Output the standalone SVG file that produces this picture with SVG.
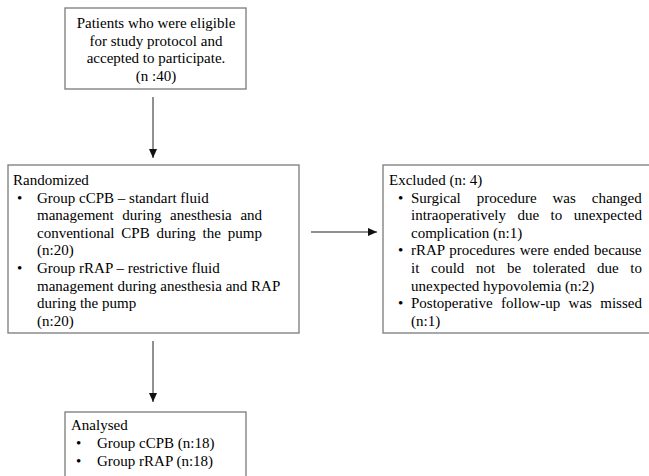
<svg xmlns="http://www.w3.org/2000/svg" width="649" height="476" viewBox="0 0 649 476">
<defs>
<style>
.box{fill:#fff;stroke:#7a7a7a;stroke-width:1.3}
text{font-family:"Liberation Serif","Times New Roman",serif;font-size:15px;fill:#000}
.c{text-anchor:middle}
.ln{stroke:#222;stroke-width:1;fill:none}
</style>
<marker id="ah" markerWidth="10" markerHeight="10" refX="9" refY="5" orient="auto" markerUnits="userSpaceOnUse">
<path d="M0,1 L9,5 L0,9 Z" fill="#111"/>
</marker>
</defs>
<rect width="649" height="476" fill="#fff"/>
<g id="connectors">
<line class="ln" x1="153" y1="97" x2="153" y2="158" marker-end="url(#ah)"/>
<line class="ln" x1="153" y1="341" x2="153" y2="402" marker-end="url(#ah)"/>
<line class="ln" x1="311" y1="232" x2="377" y2="232" marker-end="url(#ah)"/>
</g>
<g id="enrolled">
<rect class="box" x="65" y="8" width="181" height="81"/>
<text class="c" x="156" y="28">Patients who were eligible</text>
<text class="c" x="156" y="45.5">for study protocol and</text>
<text class="c" x="156" y="63">accepted to participate.</text>
<text class="c" x="156" y="80.5">(n :40)</text>
</g>
<g id="randomized">
<rect class="box" x="8" y="165" width="291" height="168"/>
<text x="13" y="185">Randomized</text>
<text x="17" y="202.6">•</text>
<text x="37" y="202.6">Group cCPB – standart fluid</text>
<text x="37" y="220.2" word-spacing="4.9">management during anesthesia and</text>
<text x="37" y="237.8" word-spacing="3.1">conventional CPB during the pump</text>
<text x="37" y="255.4">(n:20)</text>
<text x="17" y="273">•</text>
<text x="37" y="273">Group rRAP – restrictive fluid</text>
<text x="37" y="290.6">management during anesthesia and RAP</text>
<text x="37" y="308.2">during the pump</text>
<text x="37" y="325.8">(n:20)</text>
</g>
<g id="excluded">
<rect class="box" x="383" y="165" width="280" height="168"/>
<text x="389" y="185">Excluded (n: 4)</text>
<text x="398" y="202.6">•</text>
<text x="411" y="202.6" word-spacing="12.17">Surgical procedure was changed</text>
<text x="411" y="220.2" word-spacing="7.7">intraoperatively due to unexpected</text>
<text x="411" y="237.8">complication (n:1)</text>
<text x="398" y="255.4">•</text>
<text x="411" y="255.4" word-spacing="0.9">rRAP procedures were ended because</text>
<text x="411" y="273" word-spacing="7.95">it could not be tolerated due to</text>
<text x="411" y="290.6">unexpected hypovolemia (n:2)</text>
<text x="398" y="308.2">•</text>
<text x="411" y="308.2" word-spacing="4.63">Postoperative follow-up was missed</text>
<text x="411" y="325.8">(n:1)</text>
</g>
<g id="analysed">
<rect class="box" x="65" y="412" width="181" height="80"/>
<text x="71" y="430">Analysed</text>
<text x="76" y="448">•</text>
<text x="97" y="448">Group cCPB (n:18)</text>
<text x="76" y="466">•</text>
<text x="97" y="466">Group rRAP (n:18)</text>
</g>
</svg>
